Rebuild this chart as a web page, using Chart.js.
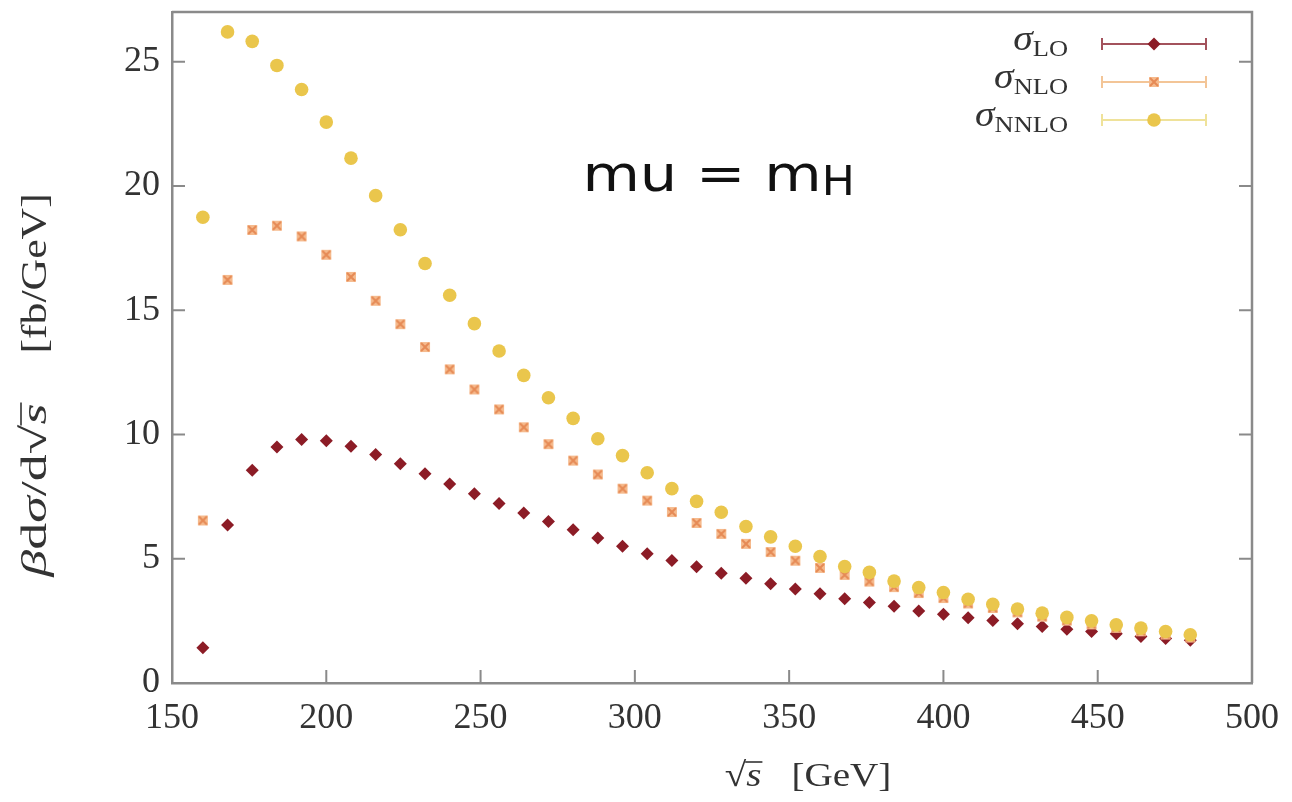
<!DOCTYPE html>
<html>
<head>
<meta charset="utf-8">
<script src="https://cdn.jsdelivr.net/npm/chart.js@4.4.1/dist/chart.umd.min.js"></script>
<style>
  html, body { margin: 0; padding: 0; background: #ffffff; }
  #wrap { width: 1292px; height: 802px; }
</style>
</head>
<body>
<div id="wrap"><canvas id="c" width="1292" height="802"></canvas></div>
<script>
// sqrt(s) bin centres in GeV
const sqrtS = [160,168,176,184,192,200,208,216,224,232,240,248,256,264,272,280,288,296,304,312,
               320,328,336,344,352,360,368,376,384,392,400,408,416,424,432,440,448,456,464,472,480];

// beta * dsigma / dsqrt(s) in fb/GeV
const sigmaLO = [1.42,6.36,8.56,9.50,9.80,9.75,9.53,9.19,8.82,8.42,8.01,7.62,7.22,6.84,6.50,6.17,5.83,5.50,5.20,4.93,
                 4.68,4.42,4.22,3.99,3.78,3.59,3.39,3.24,3.09,2.90,2.77,2.63,2.51,2.38,2.27,2.16,2.07,1.98,1.87,1.79,1.72];
const sigmaNLO = [6.54,16.22,18.23,18.40,17.97,17.23,16.34,15.38,14.44,13.52,12.62,11.81,11.01,10.29,9.61,8.95,8.39,7.82,7.34,6.88,
                  6.44,6.00,5.60,5.27,4.92,4.63,4.35,4.08,3.86,3.62,3.42,3.20,3.02,2.84,2.67,2.51,2.36,2.22,2.08,1.95,1.83];
const sigmaNNLO = [18.74,26.20,25.82,24.85,23.88,22.57,21.12,19.61,18.24,16.88,15.60,14.46,13.36,12.38,11.48,10.65,9.83,9.15,8.46,7.82,
                   7.31,6.87,6.30,5.88,5.50,5.09,4.69,4.45,4.10,3.84,3.64,3.37,3.17,2.98,2.81,2.64,2.50,2.34,2.21,2.07,1.94];

const xTicks = [150,200,250,300,350,400,450,500];
const yTicks = [0,5,10,15,20,25];
const orders = ['LO','NLO','NNLO'];

const SERIF = '"Liberation Serif", "DejaVu Serif", serif';
const SANS = '"DejaVu Sans", "Liberation Sans", sans-serif';
const FRAME = '#8a8a8a';
const TEXT = '#333333';

// square marker with a cross for the NLO series
const markNLO = (() => {
  const c = document.createElement('canvas');
  c.width = 12; c.height = 12;
  const g = c.getContext('2d');
  g.fillStyle = '#f6bb8e';
  g.fillRect(1, 1, 10, 10);
  g.strokeStyle = '#e68a55';
  g.lineWidth = 2;
  g.beginPath();
  g.moveTo(2, 2); g.lineTo(10, 10);
  g.moveTo(10, 2); g.lineTo(2, 10);
  g.stroke();
  return c;
})();

const styles = {
  LO:   { color: '#8c1c26', line: '#a3525c', pointStyle: 'rectRot', radius: 6.5 },
  NLO:  { color: '#f0a570', line: '#f3c597', pointStyle: markNLO,   radius: 6 },
  NNLO: { color: '#eac64c', line: '#efe29a', pointStyle: 'circle',  radius: 6.8 }
};
const values = { LO: sigmaLO, NLO: sigmaNLO, NNLO: sigmaNNLO };

// draw a row of text runs (mixed fonts, offsets and horizontal stretch per run)
function drawRuns(ctx, runs, x, y, align) {
  let w = 0;
  runs.forEach(r => {
    ctx.font = r.font;
    r.sx = r.sx || 1;
    r.tw = ctx.measureText(r.text).width * r.sx;
    r.w = r.tw + (r.gap || 0);
    w += r.w;
  });
  ctx.save();
  ctx.translate(x, y);
  ctx.textBaseline = 'alphabetic';
  ctx.textAlign = 'left';
  let cx = align === 'right' ? -w : (align === 'center' ? -w / 2 : 0);
  runs.forEach(r => {
    ctx.save();
    ctx.translate(cx, r.dy || 0);
    ctx.scale(r.sx, 1);
    ctx.font = r.font;
    ctx.fillStyle = r.color || TEXT;
    ctx.fillText(r.text, 0, 0);
    ctx.restore();
    if (r.overline) {
      ctx.strokeStyle = r.color || TEXT;
      ctx.lineWidth = 1.6;
      ctx.beginPath();
      ctx.moveTo(cx - 1, r.overline);
      ctx.lineTo(cx + r.tw + 1, r.overline);
      ctx.stroke();
    }
    cx += r.w;
  });
  ctx.restore();
}

const decorations = {
  id: 'decorations',
  beforeDatasetsDraw(chart) {
    const { ctx, chartArea: a, scales: { x, y } } = chart;
    ctx.save();
    ctx.strokeStyle = FRAME;
    ctx.lineWidth = 2.5;
    // top and right frame
    ctx.beginPath();
    ctx.moveTo(a.left, a.top); ctx.lineTo(a.right, a.top); ctx.lineTo(a.right, a.bottom);
    ctx.stroke();
    // inward ticks
    ctx.lineWidth = 2;
    ctx.beginPath();
    yTicks.forEach(v => {
      const py = y.getPixelForValue(v);
      ctx.moveTo(a.left, py); ctx.lineTo(a.left + 13, py);
      ctx.moveTo(a.right, py); ctx.lineTo(a.right - 13, py);
    });
    xTicks.forEach(v => {
      const px = x.getPixelForValue(v);
      ctx.moveTo(px, a.bottom); ctx.lineTo(px, a.bottom - 13);
    });
    ctx.stroke();
    ctx.restore();
  },
  afterDraw(chart) {
    const { ctx, scales: { x, y } } = chart;

    // legend, top right inside the frame
    orders.forEach((k, i) => {
      const st = styles[k];
      const ry = 44 + i * 38;
      drawRuns(ctx, [
        { text: 'σ', font: 'italic 36px ' + SERIF, sx: 1.1 },
        { text: k, font: '23px ' + SERIF, dy: 6, sx: 1.15 }
      ], 1068, ry + 6, 'right');
      ctx.save();
      ctx.strokeStyle = st.line;
      ctx.lineWidth = 2;
      ctx.beginPath();
      ctx.moveTo(1102, ry); ctx.lineTo(1206, ry);
      ctx.moveTo(1102, ry - 6); ctx.lineTo(1102, ry + 6);
      ctx.moveTo(1206, ry - 6); ctx.lineTo(1206, ry + 6);
      ctx.stroke();
      ctx.fillStyle = st.color;
      ctx.strokeStyle = st.color;
      Chart.helpers.drawPoint(ctx, { pointStyle: st.pointStyle, radius: st.radius, rotation: 0, borderWidth: 0 }, 1154, ry);
      ctx.restore();
    });

    // scale annotation
    drawRuns(ctx, [
      { text: 'mu = m', font: '50px ' + SANS, color: '#111111', sx: 1.18 },
      { text: 'H', font: '40px ' + SANS, color: '#111111', dy: 4, sx: 1.1 }
    ], x.getPixelForValue(283), y.getPixelForValue(19.8), 'left');

    // x axis title
    drawRuns(ctx, [
      { text: '√', font: '34px ' + SERIF, sx: 1.15 },
      { text: 's', font: 'italic 34px ' + SERIF, overline: -24, gap: 30, sx: 1.15 },
      { text: '[GeV]', font: '34px ' + SERIF, sx: 1.15 }
    ], 808, 786, 'center');

    // y axis title
    ctx.save();
    ctx.translate(46, 385);
    ctx.rotate(-Math.PI / 2);
    drawRuns(ctx, [
      { text: 'β', font: 'italic 36px ' + SERIF, sx: 1.5 },
      { text: 'd', font: '36px ' + SERIF, sx: 1.5 },
      { text: 'σ', font: 'italic 36px ' + SERIF, sx: 1.5 },
      { text: '/d√', font: '36px ' + SERIF, sx: 1.5 },
      { text: 's', font: 'italic 36px ' + SERIF, overline: -25, gap: 50, sx: 1.5 },
      { text: '[fb/GeV]', font: '35px ' + SERIF, sx: 1.25 }
    ], 0, 0, 'center');
    ctx.restore();
  }
};

const datasets = orders.map((k, i) => ({
  label: 'σ' + k,
  data: sqrtS.map((s, j) => ({ x: s, y: values[k][j] })),
  pointStyle: styles[k].pointStyle,
  pointRadius: styles[k].radius,
  pointBackgroundColor: styles[k].color,
  pointBorderColor: styles[k].color,
  pointBorderWidth: 0,
  showLine: false,
  order: orders.length - i
}));

new Chart(document.getElementById('c'), {
  type: 'scatter',
  data: { datasets },
  options: {
    responsive: false,
    animation: false,
    devicePixelRatio: 1,
    events: [],
    layout: { padding: { top: 12, right: 40, left: 0, bottom: 0 } },
    plugins: { legend: { display: false }, tooltip: { enabled: false } },
    scales: {
      x: {
        type: 'linear', min: 150, max: 500,
        afterBuildTicks: s => { s.ticks = xTicks.map(v => ({ value: v })); },
        afterFit: s => { s.height = 119; s.paddingLeft = 0; s.paddingRight = 0; },
        grid: { display: false, drawTicks: false },
        border: { display: true, color: FRAME, width: 2.5 },
        ticks: { color: TEXT, padding: 14, font: { family: SERIF, size: 36 }, maxRotation: 0 }
      },
      y: {
        type: 'linear', min: 0, max: 27,
        afterBuildTicks: s => { s.ticks = yTicks.map(v => ({ value: v })); },
        afterFit: s => { s.width = 172; s.paddingTop = 0; s.paddingBottom = 0; },
        grid: { display: false, drawTicks: false },
        border: { display: true, color: FRAME, width: 2.5 },
        ticks: { color: TEXT, padding: 12, font: { family: SERIF, size: 36 } }
      }
    }
  },
  plugins: [decorations]
});
</script>
</body>
</html>
